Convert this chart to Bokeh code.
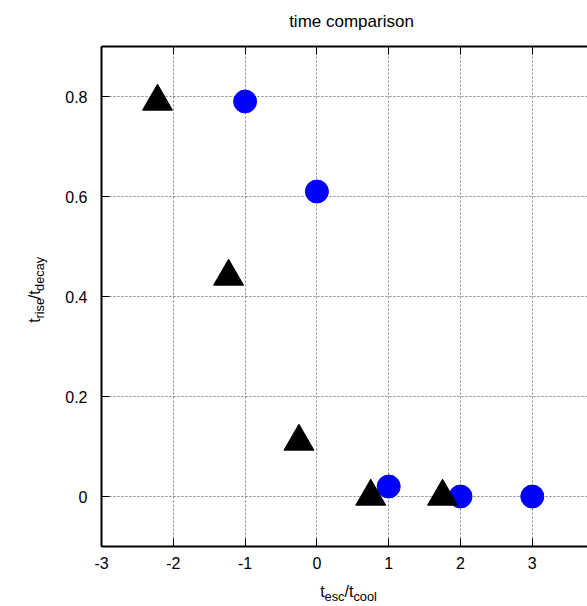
import math
from bokeh.plotting import figure
from bokeh.layouts import column, row
from bokeh.models import (Range1d, LinearAxis, FixedTicker, CustomJSTickFormatter,
                          Label, ColumnDataSource)
from bokeh.embed import file_html
from bokeh.resources import INLINE

# ---- data ----
circle_x = [-1, 0, 1, 2, 3]
circle_y = [0.79, 0.61, 0.02, 0.0, 0.0]
tri_x = [-2.22, -1.23, -0.25, 0.75, 1.75]
tri_y = [0.79, 0.44, 0.11, 0.0, 0.0]
x_ticks = [-3, -2, -1, 0, 1, 2, 3]
y_ticks = [0, 0.2, 0.4, 0.6, 0.8]
title_text = "time comparison"
xlabel_parts = [("t", False), ("esc", True), ("/t", False), ("cool", True)]
ylabel_parts = [("t", False), ("rise", True), ("/t", False), ("decay", True)]

# ---- layout constants (pixels) ----
W = 587
TOP_H = 40            # title strip
YLAB_W = 50           # y-label strip
MAIN_W = W - YLAB_W
MAIN_H = 536
XLAB_H = 606 - TOP_H - MAIN_H
FRAME_L = 101
FRAME_T = 46
FRAME_H = 500
FW = W - FRAME_L
X0, Y0, Y1 = -3.0, -0.1, 0.9
PXU = 71.8
X1 = X0 + FW / PXU
FONT = "Liberation Sans"
MS, SS = 16, 12.8
SUB_DROP = 5

def blank_fig(w, h):
    f = figure(width=w, height=h, output_backend="svg", toolbar_location=None,
               x_range=Range1d(0, w), y_range=Range1d(h, 0),
               min_border_left=0, min_border_right=0, min_border_top=0,
               min_border_bottom=0, x_axis_location=None, y_axis_location=None)
    f.outline_line_color = None
    f.xgrid.visible = False
    f.ygrid.visible = False
    f.background_fill_color = "white"
    f.border_fill_color = "white"
    return f

def put(f, text, x, y, size, angle=0.0, align="left", baseline="alphabetic"):
    f.add_layout(Label(x=x, y=y, text=text, text_font=FONT,
                       text_font_size=f"{size}px", text_color="black",
                       angle=angle, text_align=align, text_baseline=baseline))

aw = {"t": 278, "e": 556, "s": 500, "c": 500, "/": 278, "o": 556, "l": 222,
      "r": 333, "i": 222, "d": 556, "a": 556, "y": 500}
def wid(s, size):
    return sum(aw[ch] for ch in s) * size / 1000.0

# ---- title strip ----
top = blank_fig(W, TOP_H)
put(top, title_text, 351, 21, 17, align="center", baseline="middle")

# ---- main plot ----
p = figure(width=MAIN_W, height=MAIN_H, output_backend="svg", toolbar_location=None,
           x_range=Range1d(X0, X1), y_range=Range1d(Y0, Y1),
           min_border_left=FRAME_L - YLAB_W, min_border_right=0,
           min_border_top=FRAME_T - TOP_H,
           min_border_bottom=MAIN_H - (FRAME_T - TOP_H) - FRAME_H,
           x_axis_location=None, y_axis_location=None)
p.outline_line_color = None
p.background_fill_color = "white"
p.border_fill_color = "white"

fmt = CustomJSTickFormatter(code="return (Math.round(tick*10)/10).toString();")

def style_axis(ax, ticks, show_labels=True):
    ax.ticker = FixedTicker(ticks=ticks)
    ax.formatter = fmt
    ax.axis_line_width = 2
    ax.axis_line_color = "black"
    ax.major_tick_in = 8
    ax.major_tick_out = 0
    ax.major_tick_line_color = "black"
    ax.major_tick_line_width = 1
    ax.minor_tick_line_color = None
    ax.major_label_text_font = FONT
    ax.major_label_text_font_size = "16px"
    ax.major_label_text_color = "black"
    if not show_labels:
        ax.major_label_text_font_size = "0px"
        ax.major_label_text_color = None
        ax.major_label_standoff = 0

xb = LinearAxis()
style_axis(xb, x_ticks)
xb.major_label_standoff = 10
p.add_layout(xb, "below")

xt = LinearAxis()
style_axis(xt, x_ticks, show_labels=False)
p.add_layout(xt, "above")

yl = LinearAxis()
style_axis(yl, y_ticks)
yl.major_label_standoff = 14
p.add_layout(yl, "left")

p.xgrid.ticker = FixedTicker(ticks=x_ticks)
p.ygrid.ticker = FixedTicker(ticks=y_ticks)
for g in (p.xgrid, p.ygrid):
    g.grid_line_color = "#808080"
    g.grid_line_dash = "2 2"
    g.grid_line_width = 1

src_c = ColumnDataSource(dict(x=circle_x, y=circle_y))
src_t = ColumnDataSource(dict(x=tri_x, y=tri_y))
p.scatter("x", "y", source=src_c, marker="circle", size=23,
          fill_color="#0000ff", line_color="#0000ff")
p.scatter("x", "y", source=src_t, marker="triangle", size=30,
          fill_color="black", line_color="black")

# ---- y-label strip ----
ylab = blank_fig(YLAB_W, MAIN_H)
total_y = sum(wid(s, SS if sub else MS) for s, sub in ylabel_parts)
cy = (FRAME_T - TOP_H) + FRAME_H / 2 + 6 + total_y / 2
for s, sub in ylabel_parts:
    sz = SS if sub else MS
    put(ylab, s, 34 + (SUB_DROP if sub else 0), cy, sz, angle=math.pi / 2)
    cy -= wid(s, sz)

# ---- x-label strip ----
xlab = blank_fig(W, XLAB_H)
total_x = sum(wid(s, SS if sub else MS) for s, sub in xlabel_parts)
cx = 348 - total_x / 2
for s, sub in xlabel_parts:
    sz = SS if sub else MS
    put(xlab, s, cx, 15 + (SUB_DROP if sub else 0), sz)
    cx += wid(s, sz)

layout = column(top, row(ylab, p), xlab)
open("out.html", "w").write(file_html(layout, INLINE))
